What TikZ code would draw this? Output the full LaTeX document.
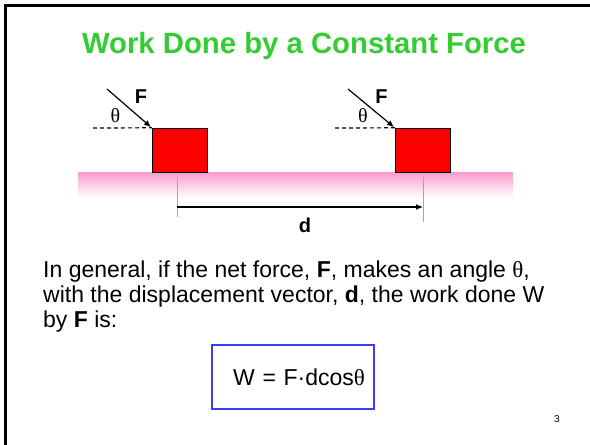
\documentclass[tikz,border=0pt]{standalone}
\usepackage{fontspec}
\setmainfont{Liberation Sans}
\newfontfamily\symfont{Liberation Serif}
\usetikzlibrary{arrows.meta,positioning}
\definecolor{titlegreen}{HTML}{33CC33}
\definecolor{floorpink}{HTML}{F99CCD}
\definecolor{tickpink}{HTML}{F27DB9}
\definecolor{boxblue}{HTML}{3B3BFF}

\begin{document}
\begin{tikzpicture}[
  x=1pt,y=-1pt,
  font=\fontsize{23}{25}\selectfont,
  block/.style={
    draw=black,
    fill=red,
    minimum width=55pt,
    minimum height=44pt,
    inner sep=0pt
  },
  ground/.style={
    top color=floorpink,
    bottom color=white,
    minimum width=435pt,
    minimum height=26pt,
    inner sep=0pt
  },
  formula/.style={
    draw=boxblue,
    line width=1.2pt,
    minimum height=64pt,
    text width=144pt,
    inner xsep=9pt,
    align=right
  },
  vecname/.style={font=\fontsize{20}{24}\selectfont\bfseries},
  anglename/.style={font=\fontsize{20}{24}\selectfont\symfont},
  force/.style={-{Latex[length=7pt,width=6pt]},line width=1.2pt,shorten >=1pt},
  horizon/.style={line width=1.2pt,dash pattern=on 4pt off 3pt},
  tick/.style={draw=tickpink,line width=0.8pt}
]

\useasboundingbox (0,0) rectangle (590,445);
\draw[line width=2.5pt] (5.5,445) -- (5.5,5.5) -- (590,5.5);

\node[anchor=base,text=titlegreen,font=\fontsize{29.3}{35}\selectfont\bfseries] (title) at (304,53) {Work Done by a Constant Force};

\node[ground] (floor) at (295.5,185) {};
\node[block] (blockA) at (179.5,150) {};
\node[block] (blockB) at (422.5,150) {};

\coordinate (tailA) at (107,89);
\coordinate (tailB) at (348,89);
\coordinate (dashA) at (93,128);
\coordinate (dashB) at (335,128);

\draw[horizon] (dashA) -- (blockA.north west);
\draw[horizon] (dashB) -- (blockB.north west);
\draw[force] (tailA) -- (blockA.north west);
\draw[force] (tailB) -- (blockB.north west);

\node[vecname] (forceA) at (141,97) {F};
\node[vecname] (forceB) at (381.5,97) {F};
\node[anglename] (angleA) at (115.5,116) {θ};
\node[anglename] (angleB) at (363,116) {θ};

\coordinate (tickAtop) at (177,177);
\coordinate (tickAbot) at (177,217);
\coordinate (tickBtop) at (423,177);
\coordinate (tickBbot) at (423,222);
\coordinate (dispA) at (177,207);
\coordinate (dispB) at (423,207);

\draw[tick] (tickAtop) -- (tickAbot);
\draw[tick] (tickBtop) -- (tickBbot);
\draw[force,shorten >=0pt] (dispA) -- (dispB);
\node[vecname] (dist) at (305,225) {d};

\node[anchor=base west,align=left,inner sep=0pt] (text) at (43,327) {In general, if the net force, \textbf{F}, makes an angle {\symfont θ},\\with the displacement vector, \textbf{d}, the work done W\\by \textbf{F} is:};

\node[formula] (law) at (293,377) {W = F·dcos{\symfont θ}};

\node[font=\fontsize{10}{12}\selectfont] (page) at (557,419) {3};
\end{tikzpicture}
\end{document}
